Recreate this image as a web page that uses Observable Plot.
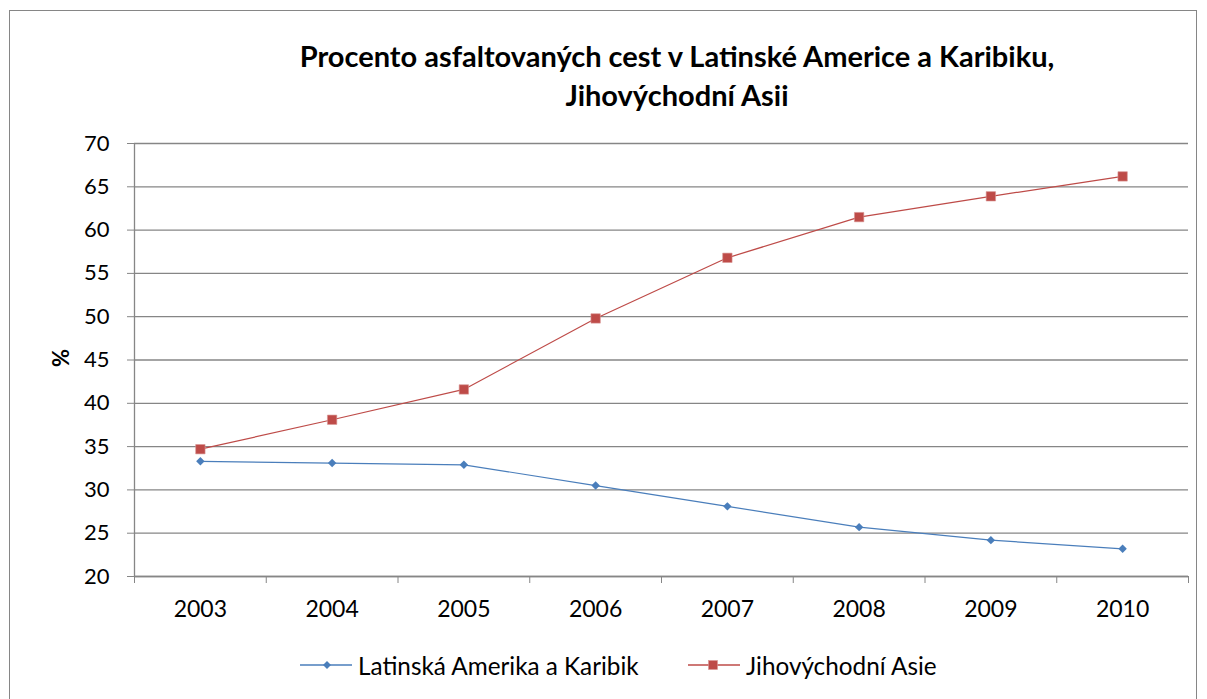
<!DOCTYPE html>
<html>
<head>
<meta charset="utf-8">
<script src="https://cdn.jsdelivr.net/npm/d3@7"></script>
<script src="https://cdn.jsdelivr.net/npm/@observablehq/plot@0.6"></script>
<style>
  html, body { margin: 0; padding: 0; background: #fff; }
  body { font-family: Lato, "Liberation Sans", sans-serif; color: #000; }
  #wrap { position: relative; width: 1207px; height: 699px; overflow: hidden; }
  #frame { position: absolute; left: 9px; top: 10px; width: 1188px; height: 700px; border: 1px solid #868686; box-sizing: border-box; }
  #title { position: absolute; left: 147px; width: 1060px; top: 36px; text-align: center; font-weight: bold; font-size: 29px; line-height: 39px; }
  #ylab { position: absolute; left: 60px; top: 358px; transform: translate(-50%, -50%) rotate(-90deg); font-weight: bold; font-size: 22px; }
  #chart { position: absolute; left: 0; top: 0; }
  #legend { position: absolute; top: 651px; left: 0; width: 1207px; height: 28px; }
  .item { position: absolute; top: 0; display: flex; align-items: center; font-size: 24.3px; height: 28px; }
  .item svg { margin-right: 6px; }
</style>
</head>
<body>
<div id="wrap">
  <div id="frame"></div>
  <div id="title">Procento asfaltovaných cest v Latinské Americe a Karibiku,<br>Jihovýchodní Asii</div>
  <div id="chart"></div>
  <div id="ylab">%</div>
  <div id="legend"></div>
</div>
<script>
const years = [2003, 2004, 2005, 2006, 2007, 2008, 2009, 2010];
const latam = [33.3, 33.1, 32.9, 30.5, 28.1, 25.7, 24.2, 23.2];
const sea   = [34.7, 38.1, 41.6, 49.8, 56.8, 61.5, 63.9, 66.2];
const yTicks = [20, 25, 30, 35, 40, 45, 50, 55, 60, 65, 70];
const seriesNames = ["Latinská Amerika a Karibik", "Jihovýchodní Asie"];
const seriesColors = ["#4A7EBB", "#BE4B48"];

const data = years.flatMap((yr, i) => [
  {year: yr, value: latam[i], series: seriesNames[0]},
  {year: yr, value: sea[i], series: seriesNames[1]}
]);
const boundaries = years.map(y => y - 0.5).concat([years[years.length - 1] + 0.5]);

const chart = Plot.plot({
  width: 1207,
  height: 640,
  marginLeft: 134,
  marginRight: 19,
  marginTop: 143,
  marginBottom: 64,
  style: {fontFamily: "Lato, 'Liberation Sans', sans-serif", fontSize: "22px", color: "#000", background: "transparent", overflow: "visible"},
  x: {domain: [boundaries[0], boundaries[boundaries.length - 1]]},
  y: {domain: [20, 70]},
  color: {domain: seriesNames, range: seriesColors},
  marks: [
    Plot.gridY(yTicks, {stroke: "#868686", strokeOpacity: 1, strokeWidth: 1.3}),
    Plot.axisY(yTicks, {tickSize: 7, tickPadding: 18, stroke: "#868686", strokeOpacity: 1, label: null, fontSize: 22}),
    Plot.axisX(boundaries, {tickSize: 7, stroke: "#868686", strokeOpacity: 1, tickFormat: () => "", label: null}),
    Plot.axisX(years, {tickSize: 0, tickPadding: 24, tickFormat: d => String(d), label: null, fontSize: 23}),
    Plot.ruleX([boundaries[0]], {stroke: "#868686", strokeWidth: 1.3}),
    Plot.ruleY([20], {stroke: "#868686", strokeWidth: 1.3}),
    Plot.line(data, {x: "year", y: "value", stroke: "series", strokeWidth: 1.2}),
    Plot.dot(data.filter(d => d.series === seriesNames[0]), {x: "year", y: "value", fill: "series", symbol: "diamond2", r: 3.8}),
    Plot.dot(data.filter(d => d.series === seriesNames[1]), {x: "year", y: "value", fill: "series", symbol: "square", r: 5.3, stroke: "#D99694", strokeWidth: 0.6})
  ]
});
document.getElementById("chart").appendChild(chart);

// legend
const legend = document.getElementById("legend");
const lefts = [300, 688];
seriesNames.forEach((name, i) => {
  const item = document.createElement("div");
  item.className = "item";
  item.style.left = lefts[i] + "px";
  const marker = i === 0
    ? `<path d="M27,10 L31,14 L27,18 L23,14 Z" fill="${seriesColors[i]}"/>`
    : `<rect x="20.5" y="9.5" width="9" height="9" fill="${seriesColors[i]}" stroke="#D99694" stroke-width="0.6"/>`;
  item.innerHTML = `<svg width="52" height="28"><line x1="0" x2="52" y1="14" y2="14" stroke="${seriesColors[i]}" stroke-width="1.4"/>${marker}</svg><span>${name}</span>`;
  legend.appendChild(item);
});
</script>
</body>
</html>
